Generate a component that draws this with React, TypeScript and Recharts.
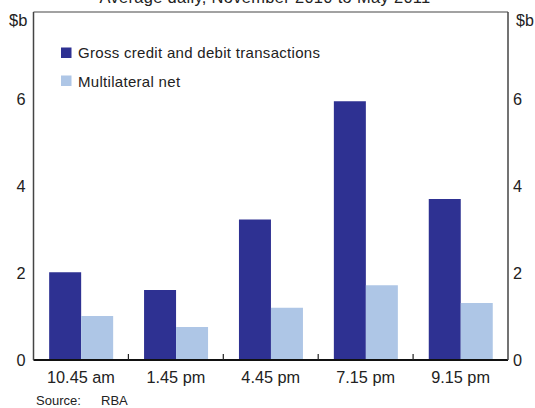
import { BarChart, Bar, XAxis, YAxis, CartesianGrid, ReferenceLine } from "recharts";

const categories = ["10.45 am", "1.45 pm", "4.45 pm", "7.15 pm", "9.15 pm"];
const grossValues = [2.02, 1.61, 3.23, 5.95, 3.7];
const netValues = [1.01, 0.76, 1.2, 1.72, 1.31];
const yTicks = [0, 2, 4, 6, 8];

const data = categories.map((name, i) => ({
  name,
  gross: grossValues[i],
  net: netValues[i],
}));

const W = 535;
const H = 408;
const LEFT_W = 33.5;
const RIGHT_W = 27;
const BAND = (W - LEFT_W - RIGHT_W) / categories.length;
const FONT = "'Liberation Sans', Arial, sans-serif";

function XTick(props: any) {
  const { x, y, payload, index } = props;
  return (
    <g>
      {index > 0 && (
        <line x1={x - BAND / 2} x2={x - BAND / 2} y1={y - 6} y2={y} stroke="#222" strokeWidth={1.2} />
      )}
      <text x={x} y={y + 22.5} textAnchor="middle" fontSize={16.3} fill="#222" fontFamily={FONT}>
        {payload.value}
      </text>
    </g>
  );
}

export default function App() {
  return (
    <div style={{ position: "absolute", top: 0, left: 0, width: W, height: H, background: "#fff" }}>
      <BarChart
        width={W}
        height={H}
        data={data}
        margin={{ top: 12, right: 0, bottom: 18, left: 0 }}
        barCategoryGap="16.5%"
        barGap={0}
      >
        <text x={265} y={3} textAnchor="middle" fontSize={16.5} letterSpacing={0.3} fill="#222" fontFamily={FONT}>
          Average daily, November 2010 to May 2011
        </text>
        <text x={9} y={26} fontSize={16.5} fill="#222" fontFamily={FONT}>$b</text>
        <text x={516} y={26} fontSize={16} fill="#222" fontFamily={FONT}>$b</text>
        <text x={36} y={405} fontSize={13} fill="#222" fontFamily={FONT}>Source:</text>
        <text x={101} y={405} fontSize={13} fill="#222" fontFamily={FONT}>RBA</text>
        <rect x={61} y={47.5} width={10.5} height={10.5} fill="#2E3192" />
        <text x={78} y={58} fontSize={15} letterSpacing={0.3} fill="#222" fontFamily={FONT}>
          Gross credit and debit transactions
        </text>
        <rect x={61} y={75.5} width={10.5} height={10.5} fill="#AEC6E6" />
        <text x={78} y={86.5} fontSize={15} letterSpacing={0.3} fill="#222" fontFamily={FONT}>
          Multilateral net
        </text>
        <CartesianGrid vertical={false} stroke="#BDBDBD" strokeWidth={1} />
        <ReferenceLine yAxisId="left" y={8} stroke="#666" strokeWidth={1} />
        <XAxis
          dataKey="name"
          height={30}
          axisLine={{ stroke: "#111", strokeWidth: 2 }}
          tickLine={false}
          tickSize={0}
          tickMargin={0}
          interval={0}
          tick={<XTick />}
        />
        <YAxis
          yAxisId="left"
          orientation="left"
          width={LEFT_W}
          domain={[0, 8]}
          ticks={yTicks}
          tickFormatter={(v: number) => (v === 8 ? "" : String(v))}
          axisLine={{ stroke: "#444", strokeWidth: 1.5 }}
          tickLine={false}
          tickSize={0}
          tickMargin={8}
          tick={{ fontSize: 16.3, fill: "#222", fontFamily: FONT }}
        />
        <YAxis
          yAxisId="right"
          orientation="right"
          width={RIGHT_W}
          domain={[0, 8]}
          ticks={yTicks}
          tickFormatter={(v: number) => (v === 8 ? "" : String(v))}
          axisLine={{ stroke: "#444", strokeWidth: 1.5 }}
          tickLine={false}
          tickSize={0}
          tickMargin={5}
          tick={{ fontSize: 16.3, fill: "#222", fontFamily: FONT, textAnchor: "start" }}
        />
        <Bar yAxisId="left" dataKey="gross" fill="#2E3192" isAnimationActive={false} />
        <Bar yAxisId="right" dataKey="net" fill="#AEC6E6" isAnimationActive={false} />
      </BarChart>
    </div>
  );
}
